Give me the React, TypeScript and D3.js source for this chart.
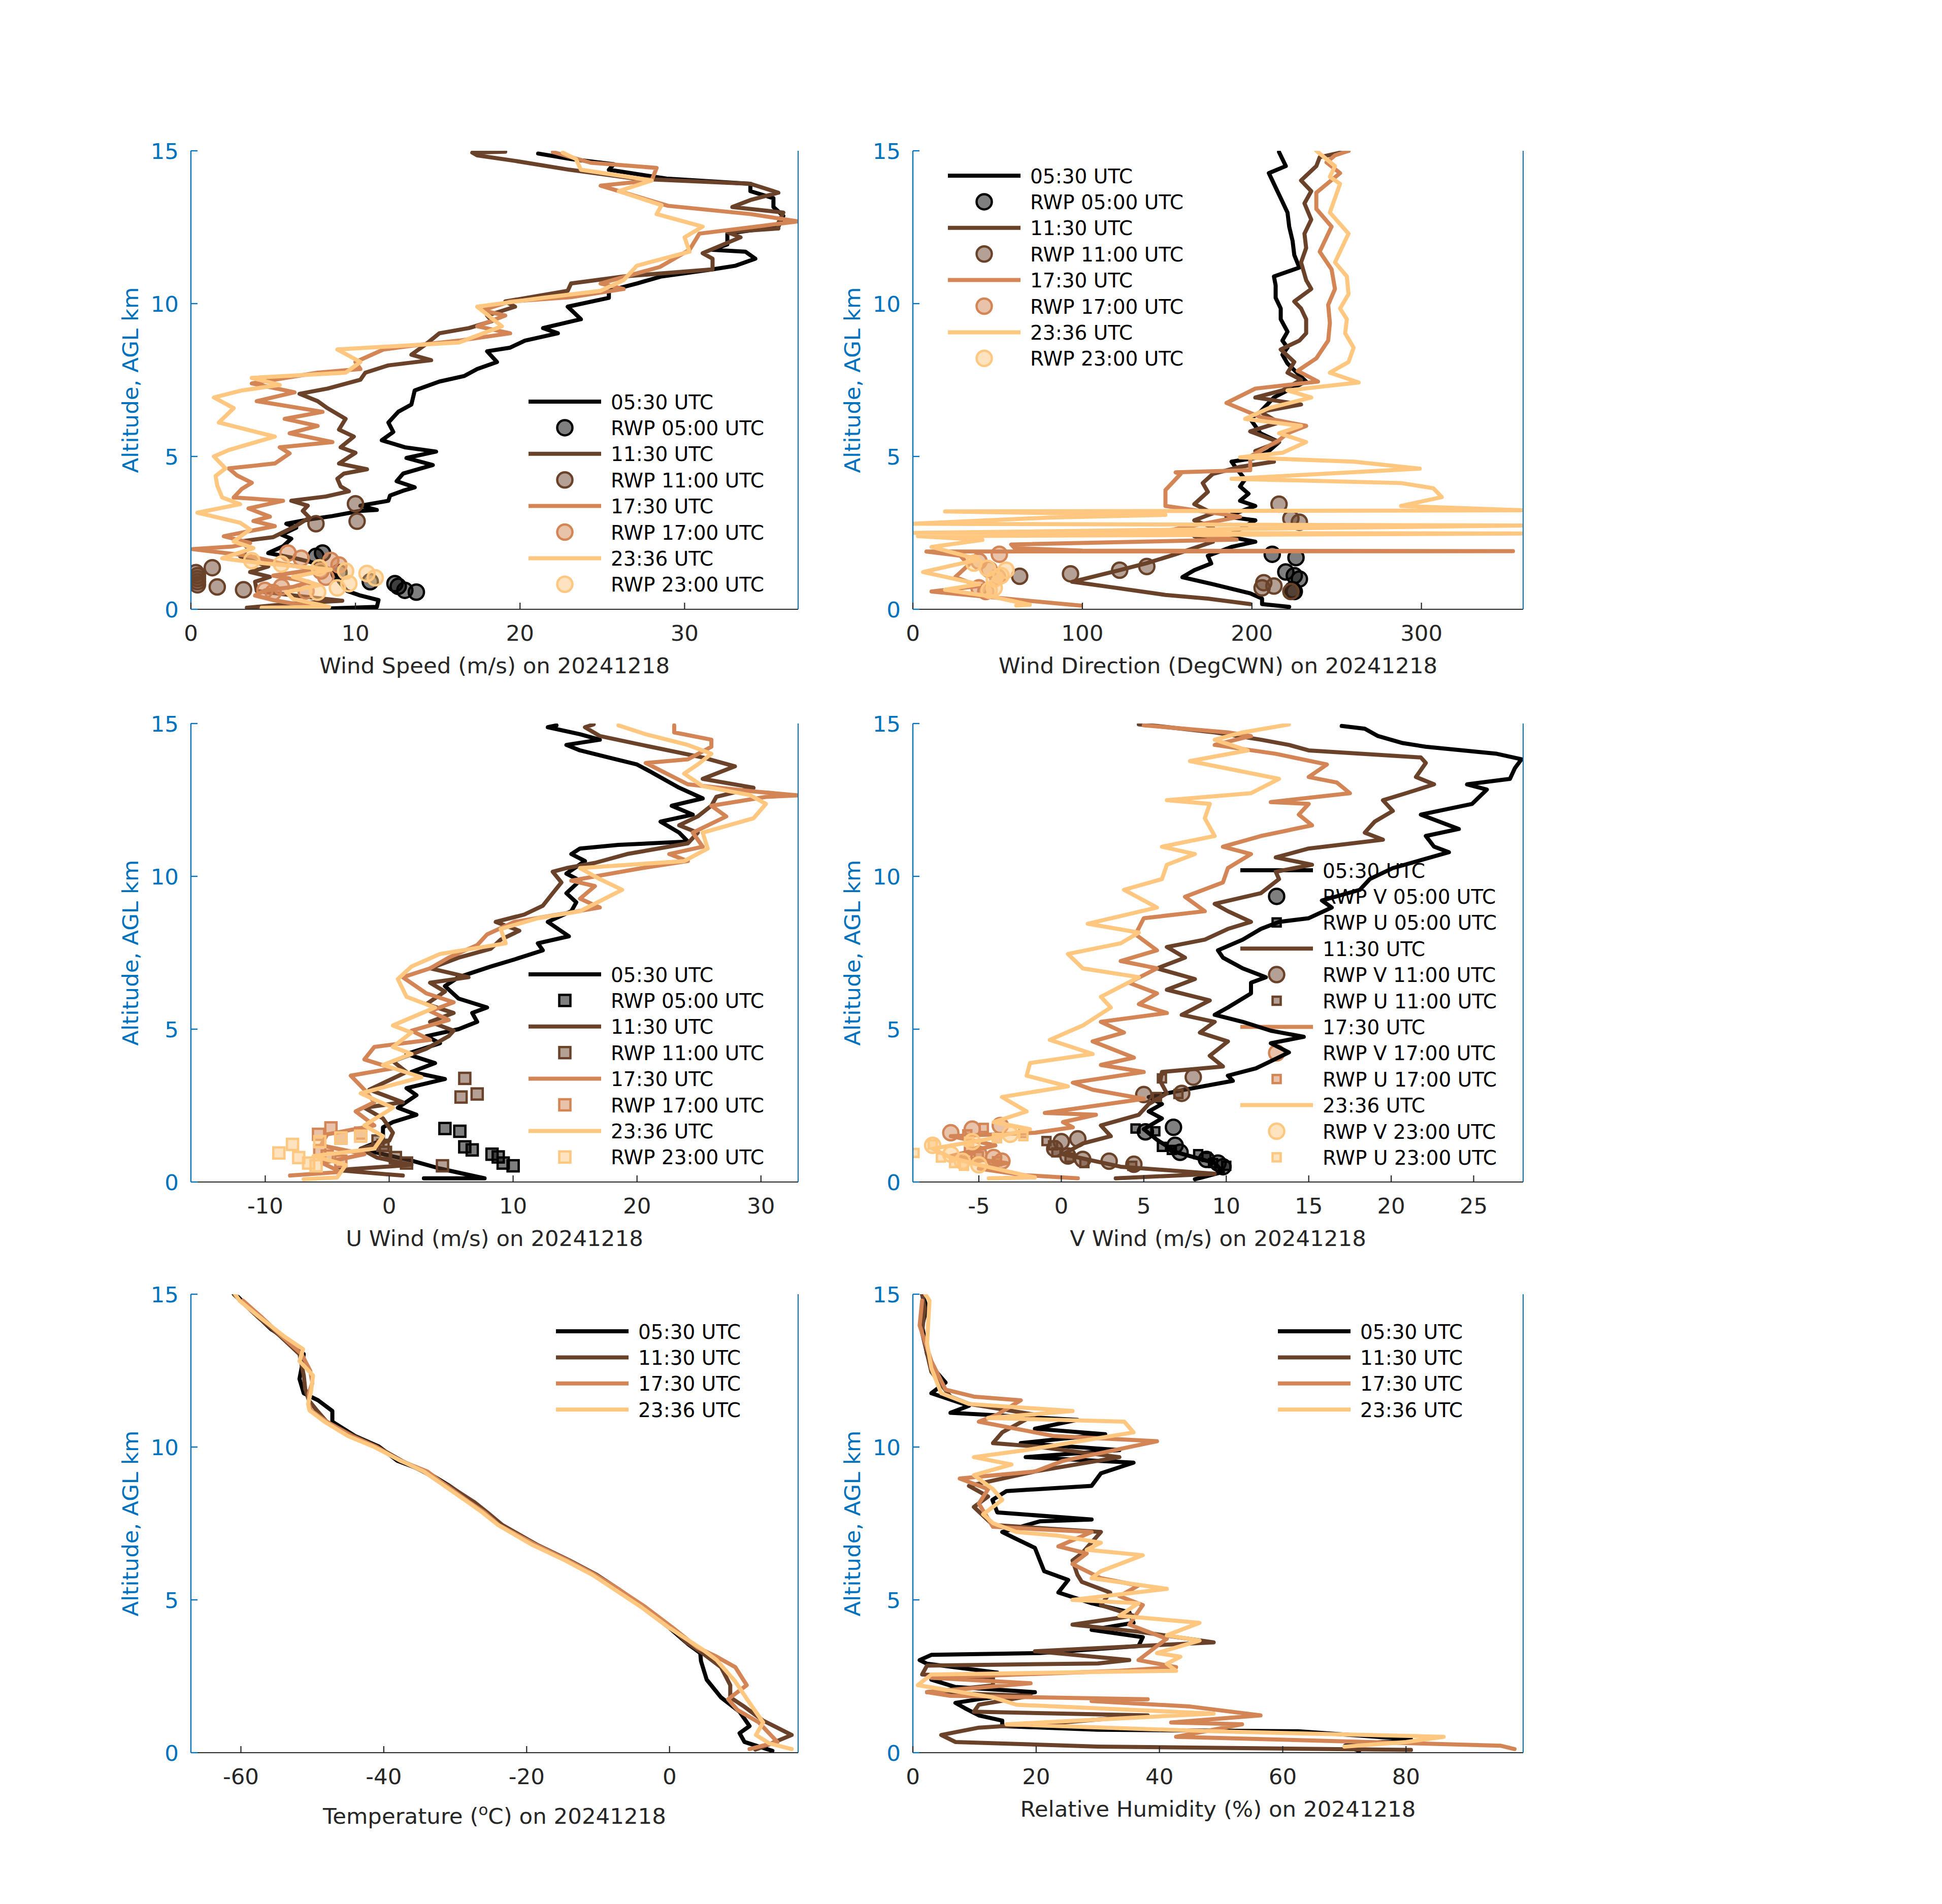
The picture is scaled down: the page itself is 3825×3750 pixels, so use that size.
import React from 'react';
import * as d3 from 'd3';

type Pt = [number, number]; // [altitude km, value]

const SOUNDINGS = ['05:30 UTC', '11:30 UTC', '17:30 UTC', '23:36 UTC'];
const RWP_TIMES = ['05:00 UTC', '11:00 UTC', '17:00 UTC', '23:00 UTC'];
const COLORS = ['#000000', '#6A422A', '#D48555', '#FFC77F'];
const ALT_TICKS = [0, 5, 10, 15];

// ---------------- Wind speed (m/s) ----------------
const WS_0530: Pt[] = [[0.03,8.5],[0.08,11.3],[0.3,11.4],[0.45,10.3],[0.6,9.5],[0.9,9.0],[1.2,8.8],[1.5,7.6],[1.65,6.5],[1.84,4.7],[2.06,5.6],[2.31,6.1],[2.44,5.5],[2.67,6.4],[2.8,5.8],[2.94,7.2],[3.05,8.6],[3.22,10.3],[3.25,11.3],[3.39,10.3],[3.55,12.0],[3.72,12.1],[3.88,12.9],[3.99,13.6],[4.19,12.5],[4.44,12.9],[4.72,14.7],[4.95,13.1],[5.16,14.9],[5.3,13.0],[5.53,11.6],[5.8,12.3],[6.11,12.0],[6.46,12.6],[6.7,13.4],[7.16,13.6],[7.45,15.1],[7.63,16.6],[7.86,17.4],[8.09,18.6],[8.44,18.0],[8.56,19.4],[8.79,20.3],[9.03,22.3],[9.2,21.4],[9.49,23.7],[9.9,22.9],[10.19,25.4],[10.42,25.4],[10.66,27.1],[10.89,28.6],[11.12,31.7],[11.24,33.1],[11.47,34.3],[11.7,33.7],[11.76,31.7],[11.94,32.6],[12.29,32.6],[12.52,35.7],[12.87,36.0],[13.16,35.4],[13.45,35.4],[13.68,34.0],[13.92,34.0],[14.09,28.9],[14.38,25.4],[14.56,25.7],[14.73,23.1],[14.91,21.1]];
const WS_1130: Pt[] = [[0.05,3.4],[0.2,6.5],[0.28,9.2],[0.45,6.3],[0.6,4.0],[0.9,3.9],[1.06,4.8],[1.22,3.6],[1.4,4.7],[1.73,3.0],[2.0,3.5],[2.22,3.0],[2.36,5.0],[2.73,6.4],[3.0,7.2],[3.22,6.8],[3.39,7.1],[3.55,6.1],[3.69,8.2],[3.86,9.6],[4.02,9.1],[4.27,8.9],[4.44,9.3],[4.58,10.7],[4.77,9.0],[5.12,10.0],[5.3,9.1],[5.65,9.9],[5.88,9.0],[6.23,9.4],[6.58,8.3],[6.81,7.7],[7.05,6.6],[7.22,8.3],[7.51,10.3],[7.74,10.6],[7.98,12.0],[8.15,14.6],[8.33,13.4],[8.68,14.3],[9.03,15.1],[9.2,16.9],[9.43,18.3],[9.61,18.0],[9.9,19.7],[10.07,19.1],[10.42,22.9],[10.66,23.1],[10.89,26.3],[11.12,31.7],[11.47,31.7],[11.65,31.1],[12.17,33.4],[12.34,32.6],[12.46,35.7],[12.64,35.7],[12.98,36.0],[13.16,32.9],[13.39,34.0],[13.63,35.7],[13.92,34.0],[14.09,27.0],[14.38,23.0],[14.67,19.7],[14.85,17.4],[14.94,17.1],[14.97,19.1]];
const WS_1730: Pt[] = [[0.1,7.2],[0.3,5.0],[0.45,3.9],[0.62,4.5],[0.73,6.2],[0.9,7.2],[1.1,5.0],[1.3,7.5],[1.5,5.5],[1.75,3.5],[1.97,0.1],[2.05,2.5],[2.17,3.6],[2.39,2.0],[2.72,5.1],[2.89,3.8],[3.03,4.8],[3.3,3.5],[3.55,5.6],[3.66,2.6],[3.94,3.1],[4.14,3.7],[4.38,2.8],[4.61,2.3],[4.77,5.1],[5.1,6.0],[5.3,5.4],[5.47,8.6],[5.76,6.0],[6.0,7.7],[6.23,5.7],[6.46,8.0],[6.81,4.0],[7.1,6.3],[7.39,3.7],[7.74,7.7],[7.86,10.3],[8.09,10.0],[8.5,11.7],[8.62,13.4],[8.79,16.3],[9.03,19.4],[9.26,17.4],[9.61,19.1],[9.78,17.7],[10.07,19.4],[10.21,23.1],[10.48,26.3],[10.66,24.9],[11.2,28.5],[11.76,30.3],[12.29,30.9],[12.69,36.9],[12.93,34.0],[13.2,29.0],[13.86,24.9],[14.03,28.0],[14.44,28.3],[14.61,24.3],[14.96,22.0]];
const WS_2336: Pt[] = [[0.05,4.3],[0.08,8.4],[0.34,6.2],[0.56,5.8],[0.79,7.8],[1.06,6.2],[1.3,8.5],[1.56,3.4],[1.67,1.9],[2.0,3.8],[2.22,2.6],[2.61,3.6],[2.83,3.0],[3.16,0.4],[3.44,3.0],[3.66,1.9],[4.05,1.6],[4.36,1.5],[4.61,2.1],[5.0,1.4],[5.21,2.3],[5.65,5.1],[6.11,1.7],[6.58,2.6],[6.93,1.4],[7.16,3.1],[7.34,5.4],[7.57,3.7],[7.74,9.4],[8.09,10.3],[8.5,8.9],[8.73,16.3],[9.26,18.9],[9.9,17.4],[10.19,21.4],[10.42,24.9],[10.77,26.3],[11.24,27.1],[11.7,30.3],[12.17,30.0],[12.52,31.1],[12.93,28.3],[13.22,28.6],[13.68,26.0],[14.03,28.0],[14.38,23.7],[14.73,23.4],[14.94,22.6]];
const RWP_WS_0500: Pt[] = [[0.56,13.7],[0.62,13.0],[0.75,12.6],[0.84,12.4],[0.9,10.9],[1.2,9.0],[1.73,7.6],[1.84,8.0]];
const RWP_WS_1100: Pt[] = [[0.64,3.2],[0.73,1.6],[0.8,0.4],[0.9,0.4],[1.0,0.4],[1.1,0.4],[1.2,0.3],[1.36,1.3],[2.8,7.6],[2.88,10.1],[3.45,10.0]];
const RWP_WS_1700: Pt[] = [[0.55,5.0],[0.62,4.5],[0.6,7.0],[0.73,5.5],[1.05,8.2],[1.25,7.9],[1.45,9.0],[1.6,8.5],[1.67,6.7],[1.84,5.9]];
const RWP_WS_2300: Pt[] = [[0.56,7.7],[0.7,8.9],[0.84,9.6],[1.03,11.2],[1.17,10.7],[1.25,9.4],[1.36,7.8],[1.48,5.5],[1.59,3.7]];

// ---------------- Wind direction (deg) ----------------
const WD_0530: Pt[] = [[0.08,222],[0.17,206],[0.35,206],[0.52,199],[0.82,177],[1.05,159],[1.28,166],[1.5,176],[1.75,174],[2.04,188],[2.21,202],[2.39,185],[2.62,193],[2.91,202],[3.03,185],[3.38,202],[3.55,193],[3.78,198],[4.02,193],[4.25,196],[4.6,191],[4.83,188],[4.95,202],[5.18,210],[5.47,216],[5.76,205],[6.23,199],[6.46,205],[6.93,213],[7.16,221],[7.45,232],[8.04,221],[8.33,218],[8.56,221],[8.79,218],[9.08,221],[9.49,217],[9.84,217],[10.19,214],[10.6,214],[10.89,213],[11.18,228],[11.59,225],[12.05,224],[12.52,222],[12.98,221],[13.45,217],[13.8,214],[14.27,210],[14.5,220],[14.96,216]];
const WD_1130: Pt[] = [[0.17,199],[0.35,174],[0.47,149],[0.7,120],[0.9,94],[1.05,105],[1.28,122],[1.51,138],[1.8,155],[2.21,177],[2.39,166],[2.68,177],[2.91,166],[3.14,177],[3.44,166],[3.84,174],[4.13,171],[4.43,177],[4.66,193],[4.83,213],[5.18,202],[5.47,216],[5.82,199],[6.11,216],[6.46,205],[6.7,229],[6.93,202],[7.16,218],[7.51,229],[7.74,221],[8.09,225],[8.5,217],[8.79,228],[9.03,232],[9.49,232],[9.84,229],[10.07,225],[10.48,235],[10.77,232],[11.35,229],[11.82,232],[12.29,231],[12.75,235],[13.28,231],[13.68,235],[14.03,229],[14.5,238],[14.79,240],[15.0,257]];
const WD_1730: Pt[] = [[0.12,99],[0.29,66],[0.58,11],[0.76,39],[1.05,25],[1.46,33],[1.75,28],[1.89,8],[1.9,354],[1.92,100],[2.0,60],[2.12,58],[2.28,191],[2.56,149],[3.03,193],[3.38,149],[3.9,149],[4.43,158],[4.48,155],[4.55,199],[5.0,199],[5.53,216],[5.76,221],[6.0,232],[6.29,205],[6.75,185],[7.22,202],[7.45,239],[7.8,227],[8.21,238],[8.79,245],[9.37,246],[9.96,245],[10.48,249],[11.12,247],[11.7,240],[12.52,247],[13.1,238],[13.63,238],[14.27,252],[14.62,244],[14.85,249],[15.0,257]];
const WD_2336: Pt[] = [[0.12,61],[0.15,69],[0.41,47],[0.64,19],[0.82,39],[1.22,6],[1.63,39],[2.04,11],[2.27,41],[2.39,3],[2.48,360],[2.5,0],[2.74,360],[2.8,0],[3.0,80],[3.09,149],[3.2,19],[3.24,360],[3.38,288],[3.67,312],[3.96,307],[4.13,288],[4.27,188],[4.6,299],[4.83,260],[4.97,193],[5.12,218],[5.47,232],[5.76,216],[6.0,229],[6.23,196],[6.58,210],[6.93,235],[7.16,221],[7.42,263],[7.74,246],[8.09,257],[8.56,260],[9.03,255],[9.49,256],[9.84,252],[10.31,257],[10.89,256],[11.35,249],[12.29,257],[12.98,246],[13.92,252],[14.15,246],[14.5,249],[15.0,238]];
const RWP_WD_0500: Pt[] = [[0.58,225],[0.64,224],[0.99,228],[1.1,225],[1.22,220],[1.69,226],[1.8,212]];
const RWP_WD_1100: Pt[] = [[0.58,223],[0.7,206],[0.76,213],[0.87,207],[1.08,63],[1.16,93],[1.28,122],[1.4,138],[2.85,228],[2.97,223],[3.44,216]];
const RWP_WD_1700: Pt[] = [[0.58,43],[0.7,39],[1.05,50],[1.3,45],[1.57,39],[1.8,51]];
const RWP_WD_2300: Pt[] = [[0.62,45],[0.7,48],[0.99,48],[1.1,52],[1.28,55],[1.34,44],[1.51,36]];

// ---------------- U wind (m/s) ----------------
const U_0530: Pt[] = [[0.12,2.8],[0.12,7.7],[0.27,6.0],[0.44,4.1],[0.7,1.8],[0.91,-0.5],[1.09,-2.3],[1.38,-0.5],[1.79,-0.5],[1.96,0.3],[2.2,2.2],[2.43,0.7],[2.84,2.2],[3.07,1.4],[3.37,4.5],[3.6,1.8],[3.89,3.7],[4.19,1.4],[4.54,4.1],[4.77,3.0],[5.0,5.6],[5.24,7.1],[5.53,6.7],[5.71,7.9],[6.0,5.6],[6.41,4.5],[6.7,5.6],[7.05,8.2],[7.28,10.1],[7.58,12.4],[7.81,12.0],[8.04,14.5],[8.51,12.8],[8.86,14.7],[9.15,15.1],[9.45,14.3],[9.86,15.4],[10.09,14.3],[10.5,15.8],[10.73,14.7],[10.91,15.4],[11.03,18.5],[11.14,24.1],[11.43,23.4],[11.79,21.9],[12.02,24.5],[12.31,22.8],[12.55,25.3],[12.9,23.4],[13.42,21.1],[13.66,20.0],[13.89,17.7],[14.12,15.4],[14.3,14.3],[14.47,17.0],[14.65,15.4],[14.88,12.8],[14.94,13.5]];
const U_1130: Pt[] = [[0.21,1.1],[0.39,-4.2],[0.56,1.8],[0.8,-1.0],[1.09,-2.3],[1.35,0.0],[1.61,0.3],[2.08,-0.5],[2.43,-2.0],[2.61,1.1],[3.02,-1.6],[3.6,1.4],[3.95,0.3],[4.36,3.0],[4.77,4.8],[4.95,5.2],[5.24,3.3],[5.53,5.2],[5.82,3.0],[6.23,4.5],[6.52,3.3],[6.7,6.4],[6.99,3.3],[7.34,5.6],[7.63,8.2],[7.93,9.0],[8.22,10.5],[8.51,8.6],[8.75,10.9],[9.04,12.4],[9.45,13.2],[9.8,13.9],[10.15,13.2],[10.27,14.3],[10.44,16.6],[10.73,19.2],[11.08,24.1],[11.43,24.9],[11.67,23.4],[11.96,24.9],[12.31,26.0],[12.6,26.4],[12.9,29.4],[13.19,25.3],[13.6,27.9],[13.89,25.3],[14.24,21.1],[14.59,17.0],[14.88,15.8],[14.97,16.5]];
const U_1730: Pt[] = [[0.21,-8.0],[0.33,-3.9],[0.62,-5.4],[0.91,-2.0],[1.2,-5.5],[1.56,-5.0],[1.85,-1.2],[2.31,-2.7],[2.61,-1.2],[3.02,-2.0],[3.48,-3.1],[3.72,0.3],[4.01,-2.0],[4.42,-1.2],[4.65,3.3],[4.95,1.8],[5.3,4.8],[5.59,3.3],[5.88,5.2],[6.17,3.0],[6.7,1.1],[6.99,3.3],[7.34,4.8],[7.75,7.1],[8.1,7.9],[8.51,10.1],[8.98,17.0],[9.27,15.4],[9.68,16.6],[9.86,14.7],[10.27,20.4],[10.5,24.1],[10.73,22.6],[10.97,25.3],[11.43,24.5],[11.96,27.2],[12.31,26.0],[12.6,30.4],[12.65,33.0],[12.78,29.4],[13.01,24.1],[13.71,20.7],[13.83,24.1],[14.24,26.0],[14.47,26.0],[14.71,23.0],[14.94,23.0]];
const U_2336: Pt[] = [[0.09,-6.9],[0.15,-4.2],[0.56,-3.5],[0.85,-6.1],[1.09,-1.2],[1.5,-0.5],[1.85,-2.0],[2.43,0.3],[2.9,-2.3],[3.43,2.6],[3.83,-0.5],[4.19,1.8],[4.42,0.3],[4.89,1.8],[5.12,0.3],[5.71,3.7],[6.06,1.4],[6.64,0.7],[7.05,1.8],[7.46,4.1],[7.81,9.4],[8.28,9.0],[8.63,12.0],[8.86,15.4],[9.56,18.8],[9.91,17.0],[10.27,15.4],[10.5,23.8],[10.91,25.7],[11.43,25.3],[11.9,29.4],[12.37,30.4],[12.66,29.1],[12.95,25.3],[13.36,23.8],[13.66,24.9],[14.01,26.0],[14.3,24.1],[14.65,20.7],[14.94,18.5]];
const RWP_U_0500: Pt[] = [[0.53,10.0],[0.62,9.2],[0.82,8.8],[0.91,8.3],[1.05,6.7],[1.15,6.1],[1.66,5.7],[1.75,4.5]];
const RWP_U_1100: Pt[] = [[0.53,4.3],[0.62,1.4],[0.8,0.5],[0.97,-0.3],[1.2,-0.5],[1.34,-0.9],[2.78,5.8],[2.88,7.1],[3.39,6.1]];
const RWP_U_1700: Pt[] = [[0.68,-3.9],[0.85,-5.0],[1.03,-5.6],[1.44,-3.9],[1.56,-5.7],[1.6,-2.3],[1.77,-4.7]];
const RWP_U_2300: Pt[] = [[0.53,-5.9],[0.62,-6.5],[0.8,-7.3],[0.95,-8.9],[1.23,-7.8],[1.32,-5.6],[1.44,-3.9],[1.5,-2.3]];

// ---------------- V wind (m/s) ----------------
const V_0530: Pt[] = [[0.09,8.1],[0.33,9.8],[0.62,9.3],[0.97,7.0],[1.38,5.8],[1.73,5.0],[2.08,6.1],[2.31,5.3],[2.55,6.1],[2.78,5.3],[3.02,7.5],[3.31,10.4],[3.48,10.1],[3.72,11.8],[3.95,12.7],[4.24,13.8],[4.54,12.7],[4.75,14.7],[4.95,12.7],[5.24,11.0],[5.47,9.3],[5.71,10.1],[6.17,11.5],[6.52,11.5],[6.7,12.4],[6.99,11.0],[7.34,9.8],[7.58,9.5],[7.93,11.0],[8.28,12.1],[8.51,13.2],[8.63,15.0],[8.98,16.4],[9.21,15.8],[9.56,18.1],[9.91,18.7],[10.27,20.1],[10.79,23.5],[10.97,22.6],[11.32,22.1],[11.55,24.1],[12.02,21.8],[12.37,24.9],[12.84,25.8],[13.01,24.6],[13.19,27.2],[13.54,27.5],[13.83,27.9],[14.01,26.4],[14.24,22.1],[14.36,20.7],[14.59,19.2],[14.83,18.4],[14.92,17.0]];
const V_1130: Pt[] = [[0.12,3.3],[0.27,9.3],[0.5,3.6],[0.91,0.1],[1.26,1.3],[1.5,3.0],[1.85,2.4],[2.2,4.7],[2.55,5.3],[2.9,6.4],[3.3,6.0],[3.6,6.1],[3.78,9.8],[4.13,9.0],[4.6,10.1],[4.89,8.4],[5.24,9.3],[5.47,7.3],[5.94,9.0],[6.29,6.4],[6.64,8.1],[6.99,5.8],[7.34,7.5],[7.69,6.4],[7.93,8.7],[8.28,10.1],[8.51,11.5],[8.86,10.1],[9.1,9.3],[9.45,12.1],[9.91,13.2],[10.15,13.0],[10.38,15.2],[10.62,13.0],[10.91,15.0],[11.2,19.5],[11.43,18.4],[11.79,19.0],[12.14,20.1],[12.49,19.5],[12.72,20.9],[13.01,22.6],[13.25,21.5],[13.71,22.1],[13.89,21.8],[14.12,15.0],[14.3,13.8],[14.47,12.1],[14.71,9.3],[14.92,5.8],[14.97,4.7]];
const V_1730: Pt[] = [[0.12,1.0],[0.23,-2.4],[0.44,-5.0],[0.62,-3.3],[0.85,-6.7],[1.2,-4.0],[1.5,-6.7],[1.61,-1.6],[1.79,0.7],[1.96,0.1],[2.2,2.1],[2.26,-1.0],[2.72,5.0],[3.02,1.9],[3.25,0.7],[3.6,5.0],[3.83,2.4],[4.07,4.4],[4.6,1.9],[4.89,3.8],[5.24,2.4],[5.53,6.4],[5.82,4.7],[6.17,5.8],[6.52,4.1],[6.99,5.8],[7.23,3.6],[7.58,5.8],[8.1,4.5],[8.63,5.0],[8.86,8.7],[9.33,7.5],[9.8,9.8],[10.27,10.1],[10.73,11.5],[10.97,9.8],[11.32,12.1],[11.67,15.2],[12.02,14.4],[12.37,15.0],[12.43,12.7],[12.72,17.5],[13.07,16.7],[13.25,15.0],[13.66,16.1],[14.01,13.0],[14.3,9.3],[14.59,11.5],[14.71,10.1],[14.94,5.0]];
const V_2336: Pt[] = [[0.12,-4.4],[0.15,-1.6],[0.56,-5.0],[0.8,-6.7],[1.09,-7.8],[1.4,-4.5],[1.73,-1.9],[1.96,-4.1],[2.31,-2.1],[2.78,-3.6],[3.13,0.4],[3.48,-2.1],[3.89,-1.9],[4.19,1.9],[4.65,-0.7],[5.12,1.3],[5.71,3.0],[6.06,2.4],[6.7,4.7],[6.99,1.3],[7.46,0.4],[7.81,3.6],[8.16,4.7],[8.45,1.6],[8.98,5.8],[9.56,3.8],[9.91,6.1],[10.38,6.4],[10.73,8.1],[10.97,6.1],[11.32,9.3],[11.9,8.7],[12.37,9.0],[12.49,6.4],[12.72,11.5],[13.19,13.2],[13.77,7.8],[14.12,11.3],[14.47,9.3],[14.71,11.0],[14.97,13.8]];
const RWP_V_0500: Pt[] = [[0.5,9.8],[0.62,9.5],[0.74,8.8],[0.97,7.2],[1.2,6.9],[1.64,5.1],[1.79,6.8]];
const RWP_V_1100: Pt[] = [[0.58,4.4],[0.68,2.9],[0.74,1.3],[0.85,0.4],[1.09,-0.4],[1.32,0.0],[1.41,1.0],[2.86,5.0],[2.9,7.3],[3.43,8.0]];
const RWP_V_1700: Pt[] = [[0.68,-3.6],[0.8,-4.1],[0.91,-5.0],[1.61,-6.7],[1.73,-5.4],[1.85,-3.7]];
const RWP_V_2300: Pt[] = [[0.56,-5.0],[0.68,-6.0],[0.91,-6.7],[1.2,-7.8],[1.32,-5.4],[1.56,-3.1]];

// ---------------- Temperature (C) ----------------
const T_0530: Pt[] = [[0.06,14.4],[0.35,10.5],[0.64,9.8],[0.87,11.2],[1.34,9.8],[1.81,7.2],[2.39,5.2],[3.0,4.4],[3.26,4.3],[3.55,2.6],[4.08,0.0],[4.77,-3.9],[5.42,-7.9],[5.82,-10.5],[6.29,-14.4],[6.81,-19.0],[7.45,-23.6],[7.86,-25.6],[8.21,-27.6],[8.73,-30.8],[9.2,-34.1],[9.55,-38.1],[10.02,-40.7],[10.36,-44.0],[10.83,-47.2],[11.18,-47.2],[11.53,-49.2],[11.76,-51.2],[12.23,-51.8],[12.6,-51.5],[13.04,-51.2],[13.45,-53.1],[13.86,-55.8],[14.44,-58.4],[14.91,-60.4]];
const T_1130: Pt[] = [[0.1,12.0],[0.23,13.5],[0.58,17.1],[1.05,13.1],[1.5,10.5],[1.81,8.5],[2.21,8.5],[2.8,7.2],[3.26,4.6],[3.6,2.4],[4.08,0.3],[4.77,-3.6],[5.36,-7.2],[5.82,-10.2],[6.29,-14.0],[6.81,-18.6],[7.45,-23.4],[7.86,-25.5],[8.21,-27.4],[8.73,-30.9],[9.2,-34.5],[9.55,-37.5],[10.02,-41.0],[10.36,-44.2],[10.83,-48.0],[11.18,-49.3],[11.53,-50.5],[11.9,-51.0],[12.34,-51.2],[13.04,-51.8],[13.63,-54.5],[14.27,-57.7],[15.0,-61.0]];
const T_1730: Pt[] = [[0.12,11.2],[0.35,15.1],[0.99,12.5],[1.4,9.5],[1.75,8.2],[2.21,10.8],[2.8,9.2],[3.14,6.6],[3.44,3.9],[4.08,0.5],[4.77,-3.4],[5.42,-7.6],[5.82,-10.4],[6.29,-14.2],[6.81,-18.8],[7.45,-23.9],[7.86,-25.9],[8.21,-28.1],[8.73,-31.2],[9.2,-33.9],[9.55,-37.7],[10.02,-41.2],[10.36,-44.5],[10.83,-48.0],[11.2,-50.2],[11.41,-50.5],[11.76,-50.5],[12.1,-50.0],[12.5,-50.3],[13.04,-51.5],[13.63,-54.3],[14.27,-57.2],[14.79,-59.7]];
const T_2336: Pt[] = [[0.12,17.1],[0.3,14.0],[0.58,12.1],[0.99,13.1],[1.63,11.2],[2.33,9.2],[3.03,6.6],[3.38,4.6],[4.08,0.0],[4.77,-4.0],[5.42,-8.2],[5.82,-10.8],[6.29,-14.6],[6.81,-19.3],[7.45,-24.0],[7.86,-26.2],[8.21,-28.3],[8.73,-31.5],[9.2,-34.4],[9.55,-37.6],[10.02,-41.5],[10.36,-45.0],[10.83,-48.3],[11.2,-50.4],[11.41,-50.6],[11.8,-50.2],[12.34,-49.9],[12.81,-51.8],[13.2,-51.3],[13.63,-54.0],[14.27,-57.5],[14.79,-60.2],[15.0,-60.8]];

// ---------------- Relative humidity (%) ----------------
const RH_0530: Pt[] = [[0.06,72.4],[0.23,70.1],[0.44,80.8],[0.7,62.5],[0.75,30.0],[0.87,14.5],[1.05,14.5],[1.22,10.7],[1.46,8.4],[1.63,6.9],[1.75,10.7],[1.98,19.8],[2.15,6.9],[2.39,3.0],[2.62,13.7],[2.91,2.3],[3.03,1.1],[3.2,3.0],[3.26,20.6],[3.49,36.6],[3.78,37.3],[4.02,29.0],[4.25,35.8],[4.6,35.1],[4.89,29.0],[5.24,23.6],[5.65,25.2],[5.94,21.3],[6.29,20.6],[6.7,19.8],[6.99,16.8],[7.22,14.5],[7.57,20.6],[7.63,29.0],[7.86,13.7],[8.27,12.9],[8.56,15.2],[8.73,29.0],[9.14,30.5],[9.49,35.8],[9.67,18.3],[9.9,33.5],[10.13,17.5],[10.42,31.2],[10.6,19.8],[10.89,26.7],[11.12,6.1],[11.35,9.1],[11.76,3.0],[12.11,5.3],[12.46,3.8],[13.04,2.3],[13.98,1.5],[14.56,2.3],[15.0,1.5]];
const RH_1130: Pt[] = [[0.09,80.8],[0.2,30.0],[0.35,6.9],[0.58,4.6],[0.82,10.7],[1.0,25.0],[1.22,38.1],[1.34,9.9],[1.57,10.7],[1.86,19.1],[1.98,2.3],[2.2,13.0],[2.45,13.0],[2.56,1.5],[2.85,2.3],[2.92,30.0],[3.03,35.1],[3.32,19.8],[3.61,48.8],[3.96,36.6],[4.19,25.9],[4.48,35.8],[4.83,30.5],[5.24,32.0],[5.59,27.4],[5.82,26.7],[6.29,25.9],[6.52,27.4],[7.22,30.5],[7.45,13.0],[8.04,9.9],[8.38,12.2],[8.73,9.1],[9.2,19.8],[9.67,33.5],[10.02,19.8],[10.13,13.0],[10.48,14.5],[11.06,19.8],[11.41,9.1],[11.65,6.1],[12.46,3.0],[13.74,1.5],[14.56,1.9],[15.0,1.5]];
const RH_1730: Pt[] = [[0.12,97.6],[0.23,95.3],[0.52,42.7],[0.93,53.4],[0.99,41.9],[1.22,56.4],[1.51,45.0],[1.69,29.0],[1.75,38.1],[1.86,6.1],[1.98,2.3],[2.27,19.1],[2.45,3.0],[2.68,33.5],[2.8,42.7],[3.03,36.6],[3.49,39.6],[3.73,41.2],[3.96,38.1],[4.19,35.1],[4.83,37.3],[5.12,33.5],[5.47,36.6],[5.71,30.5],[6.17,25.9],[6.52,28.2],[6.75,23.6],[7.22,29.0],[7.39,13.0],[8.15,10.7],[8.62,12.2],[8.97,7.6],[9.2,19.8],[9.55,24.4],[10.19,39.6],[10.36,22.9],[10.83,10.7],[11.06,13.7],[11.53,17.5],[11.65,9.9],[11.88,5.3],[12.81,3.0],[13.98,1.1],[14.79,1.5]];
const RH_2336: Pt[] = [[0.2,70.0],[0.35,80.0],[0.52,86.1],[0.7,48.8],[0.93,15.2],[1.28,48.8],[1.57,16.8],[1.81,13.0],[2.21,0.8],[2.56,3.0],[2.68,42.7],[2.91,41.2],[3.14,43.4],[3.26,39.6],[3.67,46.5],[3.84,41.2],[4.25,46.5],[4.48,33.5],[4.89,36.6],[5.0,25.9],[5.36,41.2],[5.71,29.0],[5.94,30.5],[6.46,37.3],[6.64,28.2],[6.87,30.5],[7.1,23.6],[7.22,16.8],[7.51,13.0],[7.8,11.4],[8.27,14.5],[8.62,13.0],[9.08,9.9],[9.43,16.0],[9.67,9.9],[9.9,18.3],[10.48,35.8],[10.83,34.3],[10.95,12.2],[11.18,25.9],[11.41,9.1],[11.76,4.6],[12.58,3.0],[13.39,2.3],[14.79,2.7],[15.0,2.0]];

type MarkerSet = { pts: Pt[][]; shape: 'circle' | 'square'; size: number; prefix: string };
type Panel = {
  left: number; top: number; width: number;
  xDomain: [number, number]; xTicks: number[];
  xLabel: string; sup?: boolean;
  lines: Pt[][]; markers: MarkerSet[];
  legendX: number; legendY: number;
};

const H = 903;
const COLX = [376, 1798];
const COLW = [1196, 1202];
const ROWY = [297, 1425, 2549];

const PANELS: Panel[] = [
  { left: COLX[0], top: ROWY[0], width: COLW[0], xDomain: [0, 36.9], xTicks: [0, 10, 20, 30],
    xLabel: 'Wind Speed (m/s) on 20241218', lines: [WS_0530, WS_1130, WS_1730, WS_2336],
    markers: [{ pts: [RWP_WS_0500, RWP_WS_1100, RWP_WS_1700, RWP_WS_2300], shape: 'circle', size: 15, prefix: 'RWP ' }],
    legendX: 1041, legendY: 791 },
  { left: COLX[1], top: ROWY[0], width: COLW[1], xDomain: [0, 360], xTicks: [0, 100, 200, 300],
    xLabel: 'Wind Direction (DegCWN) on 20241218', lines: [WD_0530, WD_1130, WD_1730, WD_2336],
    markers: [{ pts: [RWP_WD_0500, RWP_WD_1100, RWP_WD_1700, RWP_WD_2300], shape: 'circle', size: 15, prefix: 'RWP ' }],
    legendX: 1867, legendY: 346 },
  { left: COLX[0], top: ROWY[1], width: COLW[0], xDomain: [-16, 33], xTicks: [-10, 0, 10, 20, 30],
    xLabel: 'U Wind (m/s) on 20241218', lines: [U_0530, U_1130, U_1730, U_2336],
    markers: [{ pts: [RWP_U_0500, RWP_U_1100, RWP_U_1700, RWP_U_2300], shape: 'square', size: 11, prefix: 'RWP ' }],
    legendX: 1041, legendY: 1919 },
  { left: COLX[1], top: ROWY[1], width: COLW[1], xDomain: [-9, 28], xTicks: [-5, 0, 5, 10, 15, 20, 25],
    xLabel: 'V Wind (m/s) on 20241218', lines: [V_0530, V_1130, V_1730, V_2336],
    markers: [
      { pts: [RWP_V_0500, RWP_V_1100, RWP_V_1700, RWP_V_2300], shape: 'circle', size: 15, prefix: 'RWP V ' },
      { pts: [RWP_U_0500, RWP_U_1100, RWP_U_1700, RWP_U_2300], shape: 'square', size: 8, prefix: 'RWP U ' },
    ],
    legendX: 2443, legendY: 1714 },
  { left: COLX[0], top: ROWY[2], width: COLW[0], xDomain: [-67, 18], xTicks: [-60, -40, -20, 0],
    xLabel: 'Temperature', sup: true, lines: [T_0530, T_1130, T_1730, T_2336], markers: [],
    legendX: 1095, legendY: 2622 },
  { left: COLX[1], top: ROWY[2], width: COLW[1], xDomain: [0, 99], xTicks: [0, 20, 40, 60, 80],
    xLabel: 'Relative Humidity (%) on 20241218', lines: [RH_0530, RH_1130, RH_1730, RH_2336], markers: [],
    legendX: 2517, legendY: 2622 },
];

const FONT = 'DejaVu Sans, sans-serif';
const FS = 43.5;
const LFS = 39;
const BLUE = '#0072BD';
const DARK = '#262626';

function Marker({ shape, cx, cy, size, color }: { shape: string; cx: number; cy: number; size: number; color: string }) {
  if (shape === 'circle') {
    return <circle cx={cx} cy={cy} r={size} fill={color} fillOpacity={0.5} stroke={color} strokeWidth={4.5} />;
  }
  return <rect x={cx - size} y={cy - size} width={size * 2} height={size * 2} fill={color} fillOpacity={0.5} stroke={color} strokeWidth={4.5} />;
}

function PanelView({ p, idx }: { p: Panel; idx: number }) {
  const x = d3.scaleLinear().domain(p.xDomain).range([p.left, p.left + p.width]);
  const y = d3.scaleLinear().domain([0, 15]).range([p.top + H, p.top]);
  const line = d3.line<Pt>().x((d) => x(d[1])).y((d) => y(d[0]));
  const bottom = p.top + H;
  const right = p.left + p.width;
  const clipId = `clip${idx}`;

  const entries: { label: string; kind: 'line' | 'circle' | 'square'; size: number; color: string }[] = [];
  SOUNDINGS.forEach((s, i) => {
    entries.push({ label: s, kind: 'line', size: 0, color: COLORS[i] });
    p.markers.forEach((m) => entries.push({ label: m.prefix + RWP_TIMES[i], kind: m.shape, size: m.size, color: COLORS[i] }));
  });
  const ROW = 51.4;
  const LEN = 143;

  return (
    <g>
      <defs>
        <clipPath id={clipId}>
          <rect x={p.left} y={p.top} width={p.width} height={H} />
        </clipPath>
      </defs>
      {/* legend (drawn beneath data, no box) */}
      <g fontFamily={FONT} fontSize={LFS} fill="#000">
        {entries.map((e, k) => {
          const cy = p.legendY + k * ROW;
          const mx = p.legendX + LEN / 2;
          return (
            <g key={k}>
              {e.kind === 'line' ? (
                <line x1={p.legendX} x2={p.legendX + LEN} y1={cy} y2={cy} stroke={e.color} strokeWidth={8} />
              ) : (
                <Marker shape={e.kind} cx={mx} cy={cy} size={e.size} color={e.color} />
              )}
              <text x={p.legendX + LEN + 19} y={cy + 14.5}>{e.label}</text>
            </g>
          );
        })}
      </g>
      {/* data */}
      <g clipPath={`url(#${clipId})`}>
        {p.lines.map((ln, i) => (
          <g key={i}>
            <path d={line(ln) || ''} fill="none" stroke={COLORS[i]} strokeWidth={8} strokeLinejoin="round" strokeLinecap="round" />
            {p.markers.map((m, mi) =>
              m.pts[i].map((d, k) => (
                <Marker key={`${mi}-${k}`} shape={m.shape} cx={x(d[1])} cy={y(d[0])} size={m.size} color={COLORS[i]} />
              ))
            )}
          </g>
        ))}
      </g>
      {/* axes */}
      <line x1={p.left} x2={right} y1={bottom} y2={bottom} stroke={DARK} strokeWidth={2.2} />
      <line x1={right} x2={right} y1={p.top} y2={bottom} stroke={BLUE} strokeWidth={2} />
      <line x1={p.left} x2={p.left} y1={p.top} y2={bottom} stroke={BLUE} strokeWidth={2.4} />
      {p.xTicks.map((t) => (
        <g key={t}>
          <line x1={x(t)} x2={x(t)} y1={bottom} y2={bottom - 13} stroke={DARK} strokeWidth={2.2} />
          <text x={x(t)} y={bottom + 62} textAnchor="middle" fontFamily={FONT} fontSize={FS} fill={DARK}>{t}</text>
        </g>
      ))}
      {ALT_TICKS.map((t) => (
        <g key={t}>
          <line x1={p.left} x2={p.left + 13} y1={y(t)} y2={y(t)} stroke={BLUE} strokeWidth={2.4} />
          <text x={p.left - 24} y={y(t) + 15.8} textAnchor="end" fontFamily={FONT} fontSize={FS} fill={BLUE}>{t}</text>
        </g>
      ))}
      <text
        transform={`translate(${p.left - 104},${p.top + H / 2}) rotate(-90)`}
        textAnchor="middle" fontFamily={FONT} fontSize={FS} fill={BLUE}
      >Altitude, AGL km</text>
      {p.sup ? (
        <text x={p.left + p.width / 2} y={bottom + 140} textAnchor="middle" fontFamily={FONT} fontSize={FS} fill={DARK}>
          Temperature (<tspan dy={-17} fontSize={31}>o</tspan><tspan dy={17}>C) on 20241218</tspan>
        </text>
      ) : (
        <text x={p.left + p.width / 2} y={bottom + 126} textAnchor="middle" fontFamily={FONT} fontSize={FS} fill={DARK}>{p.xLabel}</text>
      )}
    </g>
  );
}

export default function App() {
  return (
    <svg
      width={3825}
      height={3750}
      viewBox="0 0 3825 3750"
      style={{ position: 'absolute', left: 0, top: 0, background: '#fff' }}
    >
      <rect x={0} y={0} width={3825} height={3750} fill="#fff" />
      {PANELS.map((p, i) => (
        <PanelView key={i} p={p} idx={i} />
      ))}
    </svg>
  );
}
